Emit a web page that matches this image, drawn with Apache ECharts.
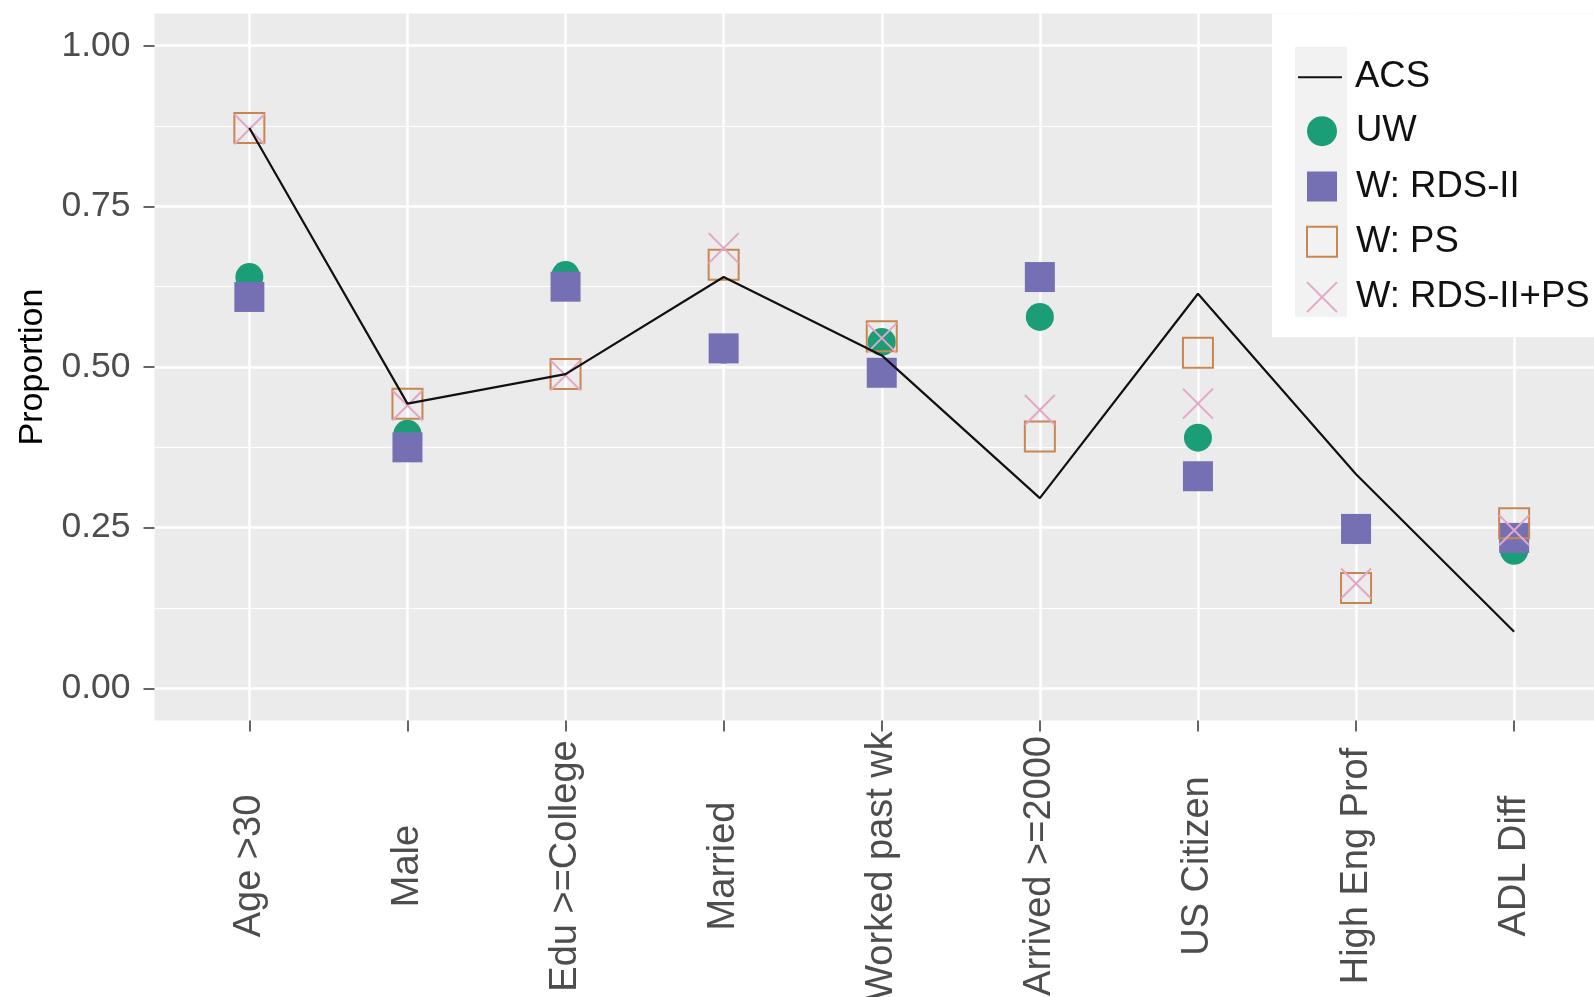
<!DOCTYPE html>
<html>
<head>
<meta charset="utf-8">
<script src="https://cdn.jsdelivr.net/npm/echarts@6/dist/echarts.min.js"></script>
<style>
  html, body { margin: 0; padding: 0; background: #ffffff; }
  #chart { width: 1594px; height: 997px; }
</style>
</head>
<body>
<div id="chart"></div>
<script>
// Characteristics compared across estimators
const categories = ['Age >30', 'Male', 'Edu >=College', 'Married', 'Worked past wk',
                    'Arrived >=2000', 'US Citizen', 'High Eng Prof', 'ADL Diff'];

// Population benchmark (ACS) and sample estimates
const acs      = [0.872, 0.443, 0.489, 0.640, 0.518, 0.296, 0.614, 0.333, 0.088];
const uw       = [0.640, 0.396, 0.643, 0.527, 0.539, 0.578, 0.390, 0.246, 0.214];
const rdsII    = [0.609, 0.375, 0.625, 0.529, 0.491, 0.640, 0.330, 0.248, 0.234];
const ps       = [0.872, 0.443, 0.489, 0.659, 0.548, 0.392, 0.522, 0.156, 0.257];
const rdsIIps  = [0.870, 0.440, 0.487, 0.685, 0.545, 0.433, 0.443, 0.163, 0.246];

const seriesNames = ['ACS', 'UW', 'W: RDS-II', 'W: PS', 'W: RDS-II+PS'];

// Y axis breaks
const yMajor = [0, 0.25, 0.5, 0.75, 1];
const yMinor = [0.125, 0.375, 0.625, 0.875];
const yTickLabels = ['0.00', '0.25', '0.50', '0.75', '1.00'];

const FONT = '"Liberation Sans", Arial, sans-serif';
const PANEL = '#ebebeb';
const xIdx = categories.map((c, i) => i);
const pts = arr => arr.map((v, i) => [i, v]);

const chart = echarts.init(document.getElementById('chart'), null, { renderer: 'canvas' });

// legend box with its column of key backgrounds
const legendTop = 46.7, keyH = 54;
const graphics = [{
  type: 'rect', z: 5,
  shape: { x: 1272, y: 13.6, width: 340, height: 323.4 },
  style: { fill: '#ffffff' }
}, {
  type: 'rect', z: 6,
  shape: { x: 1295, y: legendTop, width: 52, height: keyH * seriesNames.length },
  style: { fill: '#f2f2f2' }
}];

const legendText = {
  fontFamily: FONT, fontSize: 36.5, color: '#111111', lineHeight: 30
};

const option = {
  animation: false,
  backgroundColor: '#ffffff',
  graphic: { elements: graphics },
  grid: {
    left: 154.5, right: -15, top: 13.6, bottom: 276.6,
    outerBoundsMode: 'none', containLabel: false,
    show: true, backgroundColor: PANEL, borderWidth: 0
  },
  xAxis: {
    type: 'value', min: -0.6, max: 8.6,
    axisLine: { show: false, onZero: false },
    axisTick: { show: true, length: 11, customValues: xIdx,
                lineStyle: { color: '#333333', width: 1.5 } },
    axisLabel: {
      customValues: xIdx,
      formatter: v => categories[Math.round(v)],
      rotate: 90, align: 'center', verticalAlign: 'middle', margin: 145.6,
      padding: [8, 0, 0, 0],
      fontFamily: FONT, fontSize: 38, color: '#4d4d4d'
    },
    splitLine: { show: true, lineStyle: { color: '#ffffff', width: 2.5 } }
  },
  yAxis: [{
    type: 'value', min: -0.05, max: 1.05,
    name: 'Proportion', nameLocation: 'middle', nameGap: 105, nameRotate: 90,
    nameTextStyle: { fontFamily: FONT, fontSize: 34, color: '#000000' },
    axisLine: { show: false, onZero: false },
    axisTick: { show: true, length: 11, customValues: yMajor,
                lineStyle: { color: '#333333', width: 1.5 } },
    axisLabel: {
      customValues: yMajor,
      formatter: v => yTickLabels[yMajor.indexOf(Math.round(v * 100) / 100)],
      margin: 24, fontFamily: FONT, fontSize: 35.5, color: '#4d4d4d'
    },
    splitLine: { show: true, lineStyle: { color: '#ffffff', width: 2.5 } }
  }, {
    type: 'value', min: -0.05, max: 1.05, position: 'left',
    axisLine: { show: false, onZero: false },
    axisTick: { show: false, customValues: yMinor },
    axisLabel: { show: false, customValues: yMinor },
    splitLine: { show: true, lineStyle: { color: '#ffffff', width: 1.2 } }
  }],
  legend: [{
    data: [{ name: 'ACS', icon: 'rect' }], orient: 'vertical', left: 1298, top: 58.7,
    itemWidth: 44, itemHeight: 2, padding: 0, z: 10, selectedMode: false,
    itemStyle: { color: '#111111', borderWidth: 0 },
    textStyle: Object.assign({ padding: [0, 0, 0, 8] }, legendText)
  }, {
    data: ['UW', 'W: RDS-II', 'W: PS', 'W: RDS-II+PS'], orient: 'vertical',
    left: 1306, top: 112.7, itemWidth: 30, itemHeight: 30, itemGap: 18.3,
    padding: 0, z: 10, selectedMode: false,
    textStyle: Object.assign({ padding: [0, 0, 0, 14] }, legendText)
  }],
  series: [{
    name: 'UW', type: 'scatter', z: 2, data: pts(uw),
    symbol: 'circle', symbolSize: 28,
    itemStyle: { color: '#1b9e77', opacity: 1 }
  }, {
    name: 'W: RDS-II', type: 'scatter', z: 3, data: pts(rdsII),
    symbol: 'rect', symbolSize: 30,
    itemStyle: { color: '#7570b3', opacity: 1 }
  }, {
    name: 'W: PS', type: 'scatter', z: 4, data: pts(ps),
    symbol: 'rect', symbolSize: 30,
    itemStyle: { color: 'rgba(0,0,0,0)', borderColor: '#c98650', borderWidth: 2, opacity: 1 }
  }, {
    name: 'W: RDS-II+PS', type: 'scatter', z: 5, data: pts(rdsIIps),
    symbol: 'path://M0,0L20,20M20,0L0,20', symbolSize: 30,
    itemStyle: { color: 'rgba(0,0,0,0)', borderColor: '#e2a6c9', borderWidth: 2, opacity: 1 }
  }, {
    name: 'ACS', type: 'line', z: 6, data: pts(acs),
    symbol: 'none', showSymbol: false,
    lineStyle: { color: '#111111', width: 2.2 },
    itemStyle: { color: '#111111' }
  }]
};

chart.setOption(option);
</script>
</body>
</html>
